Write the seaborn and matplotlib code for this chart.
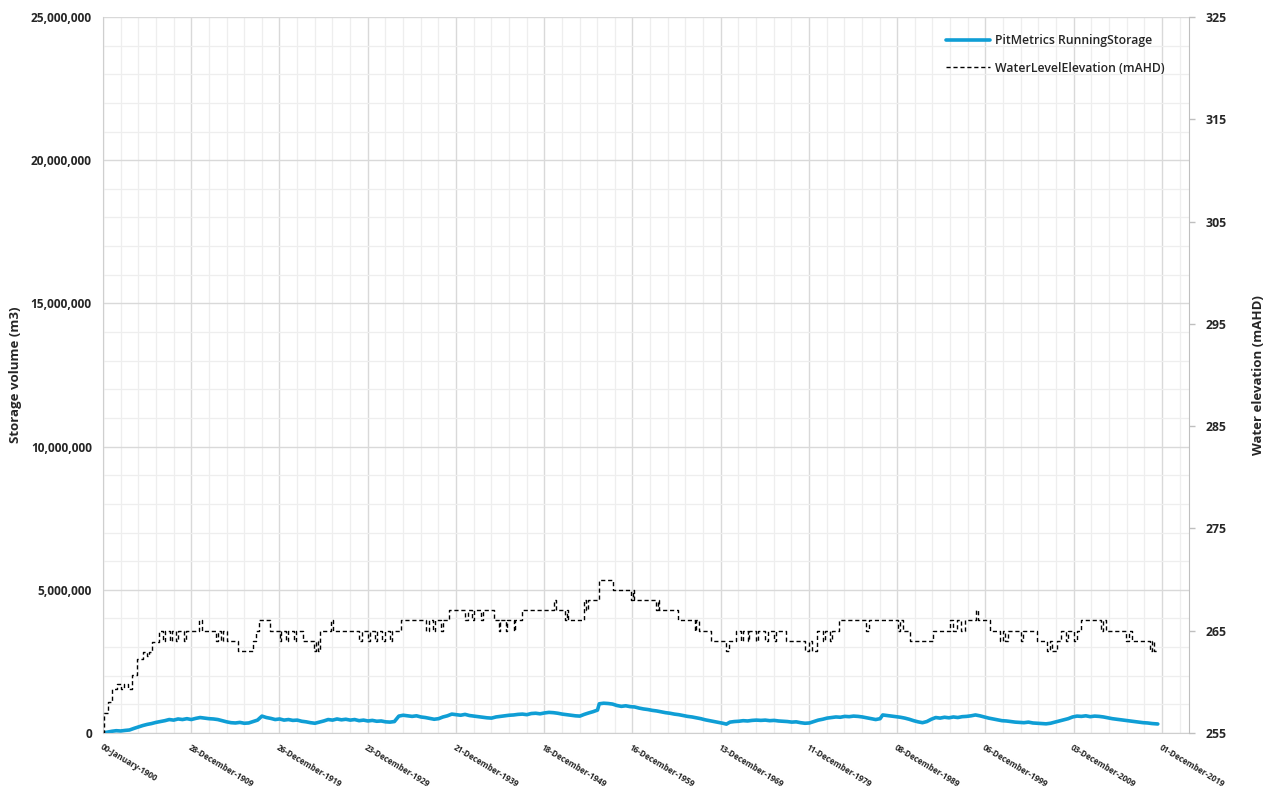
import matplotlib
matplotlib.use("Agg")
import matplotlib.pyplot as plt
import matplotlib.ticker as mticker
import seaborn as sns
import pandas as pd

# storage volume (thousand m3)
storage_years = [1900.0, 1900.5, 1901.0, 1901.5, 1902.0, 1902.5, 1903.0, 1903.5, 1904.0, 1904.5,
                 1905.0, 1905.5, 1906.0, 1906.5, 1907.0, 1907.5, 1908.0, 1908.5, 1909.0, 1909.5,
                 1910.0, 1910.5, 1911.0, 1911.5, 1912.0, 1912.5, 1913.0, 1913.5, 1914.0, 1914.5,
                 1915.0, 1915.5, 1916.0, 1916.5, 1917.0, 1917.5, 1918.0, 1918.5, 1919.0, 1919.5,
                 1920.0, 1920.5, 1921.0, 1921.5, 1922.0, 1922.5, 1923.0, 1923.5, 1924.0, 1924.5,
                 1925.0, 1925.5, 1926.0, 1926.5, 1927.0, 1927.5, 1928.0, 1928.5, 1929.0, 1929.5,
                 1930.0, 1930.5, 1931.0, 1931.5, 1932.0, 1932.5, 1933.0, 1933.5, 1934.0, 1934.5,
                 1935.0, 1935.5, 1936.0, 1936.5, 1937.0, 1937.5, 1938.0, 1938.5, 1939.0, 1939.5,
                 1940.0, 1940.5, 1941.0, 1941.5, 1942.0, 1942.5, 1943.0, 1943.5, 1944.0, 1944.5,
                 1945.0, 1945.5, 1946.0, 1946.5, 1947.0, 1947.5, 1948.0, 1948.5, 1949.0, 1949.5,
                 1950.0, 1950.5, 1951.0, 1951.5, 1952.0, 1952.5, 1953.0, 1953.5, 1954.0, 1954.5,
                 1955.0, 1955.5, 1956.0, 1956.2, 1956.7, 1957.2, 1957.7, 1958.2, 1958.7, 1959.2,
                 1959.7, 1960.2, 1960.7, 1961.2, 1961.7, 1962.2, 1962.7, 1963.2, 1963.7, 1964.2,
                 1964.7, 1965.2, 1965.7, 1966.2, 1966.7, 1967.2, 1967.7, 1968.2, 1968.7, 1969.2,
                 1969.7, 1970.2, 1970.6, 1971.0, 1971.5, 1972.0, 1972.5, 1973.0, 1973.5, 1974.0,
                 1974.5, 1975.0, 1975.5, 1976.0, 1976.5, 1977.0, 1977.5, 1978.0, 1978.5, 1979.0,
                 1979.5, 1980.0, 1980.5, 1981.0, 1981.5, 1982.0, 1982.5, 1983.0, 1983.5, 1984.0,
                 1984.5, 1985.0, 1985.5, 1986.0, 1986.5, 1987.0, 1987.5, 1988.0, 1988.3, 1988.8,
                 1989.3, 1989.8, 1990.3, 1990.8, 1991.3, 1991.8, 1992.3, 1992.8, 1993.3, 1993.8,
                 1994.3, 1994.8, 1995.3, 1995.8, 1996.3, 1996.8, 1997.3, 1997.8, 1998.3, 1998.8,
                 1999.3, 1999.8, 2000.3, 2000.8, 2001.3, 2001.8, 2002.3, 2002.8, 2003.3, 2003.8,
                 2004.3, 2004.8, 2005.3, 2005.8, 2006.3, 2006.8, 2007.3, 2007.8, 2008.3, 2008.8,
                 2009.3, 2009.8, 2010.3, 2010.8, 2011.3, 2011.8, 2012.3, 2012.8, 2013.3, 2013.8,
                 2014.3, 2014.8, 2015.3, 2015.8, 2016.3, 2016.8, 2017.3, 2017.8, 2018.3, 2018.8,
                 2019.45]
storage_kilo_m3 = [0, 30, 60, 80, 70, 90, 105, 160, 210, 260,
                   300, 330, 370, 400, 430, 470, 450, 490, 470, 500,
                   470, 510, 540, 520, 500, 490, 470, 430, 390, 360,
                   350, 370, 340, 350, 400, 450, 590, 540, 510, 470,
                   490, 450, 470, 440, 450, 410, 390, 360, 340, 380,
                   420, 470, 450, 490, 460, 480, 450, 470, 430, 450,
                   420, 440, 410, 420, 390, 380, 400, 590, 620, 600,
                   580, 600, 560, 540, 510, 480, 500, 560, 600, 660,
                   640, 620, 650, 610, 590, 570, 550, 530, 520, 560,
                   580, 600, 620, 630, 650, 660, 640, 680, 690, 670,
                   700, 720, 710, 690, 660, 640, 620, 600, 590, 650,
                   700, 745, 800, 1020, 1040, 1030, 1010, 960, 930, 950,
                   920, 910, 870, 840, 820, 790, 770, 740, 710, 690,
                   660, 640, 610, 580, 560, 530, 500, 460, 430, 400,
                   370, 340, 310, 380, 400, 410, 430, 420, 440, 450,
                   440, 450, 430, 440, 420, 410, 400, 380, 390, 360,
                   340, 350, 400, 450, 480, 520, 540, 560, 550, 580,
                   570, 590, 580, 560, 530, 500, 470, 500, 630, 610,
                   590, 570, 550, 520, 480, 430, 390, 360, 400, 480,
                   540, 520, 550, 530, 560, 540, 570, 580, 600, 630,
                   600, 560, 520, 490, 460, 430, 420, 400, 380, 370,
                   360, 380, 350, 340, 330, 320, 340, 380, 420, 460,
                   500, 560, 590, 580, 600, 570, 590, 580, 560, 530,
                   500, 480, 460, 440, 420, 400, 380, 360, 350, 330,
                   315]

# water level elevation (mAHD), step changes
level_years = [1900.0, 1900.1, 1900.6, 1901.0, 1901.6, 1902.0, 1902.4, 1902.8, 1903.3,
               1903.8, 1904.5, 1905.0, 1905.2, 1905.6, 1906.3, 1906.8, 1907.0, 1907.6,
               1907.8, 1908.3, 1908.5, 1909.2, 1909.4, 1910.9, 1911.2, 1912.8, 1913.0,
               1913.4, 1913.6, 1914.0, 1915.3, 1917.0, 1917.3, 1917.7, 1918.9, 1920.0,
               1920.2, 1920.7, 1920.9, 1921.6, 1921.8, 1922.7, 1923.9, 1924.1, 1924.3,
               1924.6, 1925.8, 1926.0, 1929.0, 1929.3, 1930.0, 1930.2, 1930.8, 1931.0,
               1931.6, 1931.9, 1932.5, 1932.7, 1933.8, 1936.6, 1936.9, 1937.4, 1937.6,
               1938.3, 1938.5, 1939.2, 1941.0, 1941.3, 1941.8, 1942.0, 1942.8, 1943.0,
               1944.3, 1944.8, 1945.0, 1945.6, 1945.8, 1946.5, 1946.7, 1947.5, 1951.1,
               1951.3, 1952.3, 1952.5, 1952.7, 1954.5, 1954.7, 1954.9, 1956.2, 1957.7,
               1959.8, 1960.0, 1960.1, 1962.6, 1962.8, 1963.0, 1965.1, 1967.0, 1967.2,
               1967.5, 1968.8, 1970.6, 1970.9, 1971.7, 1972.2, 1972.5, 1973.0, 1973.2,
               1974.0, 1974.2, 1975.0, 1975.3, 1976.0, 1976.2, 1977.3, 1979.5, 1980.0,
               1980.3, 1980.9, 1981.5, 1981.8, 1982.3, 1982.6, 1983.3, 1986.4, 1986.8,
               1990.0, 1990.3, 1990.6, 1991.4, 1994.0, 1995.9, 1996.3, 1996.7, 1997.2,
               1997.6, 1998.9, 1999.1, 2000.5, 2001.6, 2001.9, 2002.2, 2002.5, 2004.0,
               2004.2, 2005.8, 2006.9, 2007.2, 2007.5, 2008.0, 2008.5, 2009.0, 2009.3,
               2010.0, 2010.3, 2010.8, 2013.0, 2013.3, 2013.6, 2015.9, 2016.2, 2016.5,
               2018.6, 2018.8, 2019.0, 2019.45]
level_mahd = [255, 257, 258, 259.3, 259.8, 259.3, 259.8, 259.3, 260.7,
              262.2, 262.9, 262.5, 262.9, 263.9, 265, 264, 265, 264,
              265, 264, 265, 264, 265, 266, 265, 264, 265,
              264, 265, 264, 263, 264, 265, 266, 265, 264,
              265, 264, 265, 264, 265, 264, 263, 264, 263,
              265, 266, 265, 264, 265, 264, 265, 264, 265,
              264, 265, 264, 265, 266, 265, 266, 265, 266,
              265, 266, 267, 266, 267, 266, 267, 266, 267,
              266, 265, 266, 265, 266, 265, 266, 267, 268,
              267, 266, 267, 266, 268, 267, 268, 270, 269,
              268, 269, 268, 267, 268, 267, 266, 265, 266,
              265, 264, 263, 264, 265, 264, 265, 264, 265,
              264, 265, 264, 265, 264, 265, 264, 263, 264,
              263, 265, 264, 265, 264, 265, 266, 265, 266,
              265, 266, 265, 264, 265, 266, 265, 266, 265,
              266, 267, 266, 265, 264, 265, 264, 265, 264,
              265, 264, 263, 264, 263, 264, 265, 264, 265,
              264, 265, 266, 265, 266, 265, 264, 265, 264,
              263, 264, 263, 263]

tick_days = [0, 3650, 7300, 10950, 14600, 18250, 21900, 25550, 29200, 32850, 36500, 40150, 43800]
tick_labels = ["00-January-1900", "28-December-1909", "26-December-1919", "23-December-1929",
               "21-December-1939", "18-December-1949", "16-December-1959", "13-December-1969",
               "11-December-1979", "08-December-1989", "06-December-1999", "03-December-2009",
               "01-December-2019"]

to_days = lambda y: (y - 1900) * 365.25
storage = pd.DataFrame({"day": [to_days(y) for y in storage_years],
                        "vol": [v * 1000 for v in storage_kilo_m3]})
level = pd.DataFrame({"day": [to_days(y) for y in level_years], "wl": level_mahd})

sns.set_style("white")
plt.rcParams['font.family'] = ['Open Sans', 'DejaVu Sans']

fig = plt.figure(figsize=(12.66, 7.90), dpi=100)
ax = fig.add_axes([103 / 1266, 1 - 733 / 790, (1189 - 103) / 1266, (733 - 17) / 790])
ax2 = ax.twinx()

sns.lineplot(data=storage, x="day", y="vol", ax=ax, color="#0F9ED5", linewidth=2.6,
             estimator=None, label="PitMetrics RunningStorage", legend=False)
sns.lineplot(data=level, x="day", y="wl", ax=ax2, color="black", linewidth=1.0,
             linestyle=(0, (3, 2)), drawstyle="steps-post", estimator=None,
             label="WaterLevelElevation (mAHD)", legend=False)

ax.set_xlim(0, 44920)
ax.set_ylim(0, 25e6)
ax2.set_ylim(255, 325)

ax.set_xticks(tick_days)
ax.set_xticklabels(tick_labels, rotation=-31, ha="left", va="top",
                   rotation_mode="anchor", fontsize=5.9, fontweight="bold")
ax.xaxis.set_minor_locator(mticker.MultipleLocator(730))
ax.yaxis.set_major_locator(mticker.MultipleLocator(5e6))
ax.yaxis.set_minor_locator(mticker.MultipleLocator(1e6))
ax.yaxis.set_major_formatter(mticker.FuncFormatter(lambda v, p: f"{v:,.0f}"))
ax2.set_yticks(range(255, 326, 10))

ax.grid(which="major", color="#d9d9d9", linewidth=1.0)
ax.grid(which="minor", color="#eeeeee", linewidth=0.9)
ax.set_axisbelow(True)

ax.tick_params(axis="both", which="both", length=0)
ax.tick_params(axis="y", labelsize=8.6, pad=8)
ax.tick_params(axis="x", pad=7)
ax2.tick_params(axis="y", length=4, color="#bfbfbf", width=1, labelsize=8.8, pad=8)
for t in ax.get_yticklabels() + ax2.get_yticklabels():
    t.set_fontweight("bold")

ax.spines["top"].set_visible(False)
ax.spines["right"].set_visible(False)
for s in ["top", "left", "bottom"]:
    ax2.spines[s].set_visible(False)
for s in ["left", "bottom"]:
    ax.spines[s].set_color("#cfcfcf")
ax2.spines["right"].set_color("#bfbfbf")

ax.set_xlabel("")
ax.set_ylabel("Storage volume (m3)", fontsize=9.5, fontweight="bold", labelpad=6)
ax2.set_ylabel("Water elevation (mAHD)", fontsize=9.5, fontweight="bold", labelpad=18)

h1, l1 = ax.get_legend_handles_labels()
h2, l2 = ax2.get_legend_handles_labels()
leg = ax2.legend(h1 + h2, l1 + l2, loc="upper right", bbox_to_anchor=(1176 / 1266, 1 - 23 / 790),
                 bbox_transform=fig.transFigure, frameon=False, fontsize=8.8,
                 handlelength=3.6, handletextpad=0.45, labelspacing=1.2)
for t in leg.get_texts():
    t.set_fontweight("semibold")

fig.savefig("out.png", dpi=100)
